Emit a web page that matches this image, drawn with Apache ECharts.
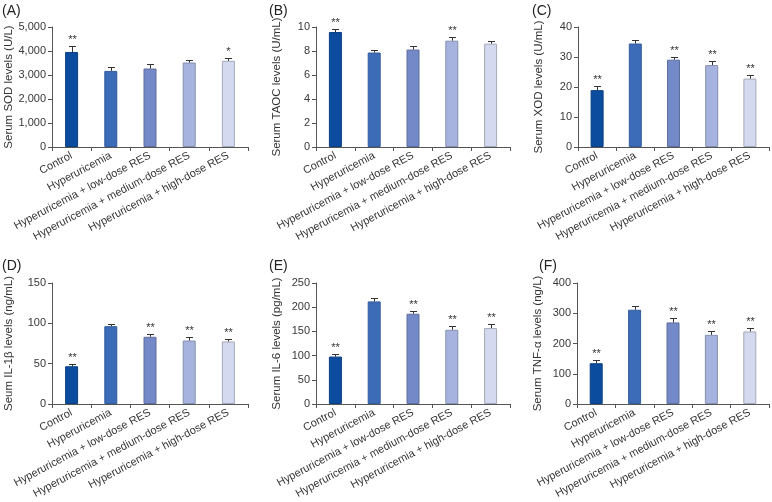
<!DOCTYPE html>
<html><head><meta charset="utf-8">
<script src="https://cdn.jsdelivr.net/npm/echarts@6/dist/echarts.min.js"></script>
<style>html,body{margin:0;padding:0;background:#fff}#c{width:772px;height:502px}</style>
</head><body><div id="c"></div>
<script>
const categories = ['Control','Hyperuricemia','Hyperuricemia + low-dose RES','Hyperuricemia + medium-dose RES','Hyperuricemia + high-dose RES'];
const barColors = ['#0b4c9f','#3c6cb8','#7489c7','#a6b3de','#d4d9ef'];
const borderColors = ['#0a3f82','#335d9c','#5f6f9c','#8490ae','#a4a9b8'];

const sodMean = [3960, 3170, 3270, 3520, 3590];
const sodErr = [250, 150, 180, 125, 125];
const sodStars = ['**','','','','*'];

const taocMean = [9.58, 7.87, 8.12, 8.86, 8.61];
const taocErr = [0.28, 0.2, 0.27, 0.3, 0.25];
const taocStars = ['**','','','**',''];

const xodMean = [18.95, 34.5, 29.1, 27.3, 22.8];
const xodErr = [1.3, 1.3, 0.9, 1.3, 1.2];
const xodStars = ['**','','**','**','**'];

const il1Mean = [46.8, 96.5, 83.3, 78.7, 77.5];
const il1Err = [2.9, 2.9, 4, 4.5, 3.3];
const il1Stars = ['**','','**','**','**'];

const il6Mean = [98, 212, 186.5, 153.3, 156.8];
const il6Err = [6, 6, 5.5, 7.6, 7.6];
const il6Stars = ['**','','**','**','**'];

const tnfMean = [134.8, 311.6, 269.6, 228.7, 239.8];
const tnfErr = [11, 11, 14, 12, 12];
const tnfStars = ['**','','**','**','**'];

const panels = [
  {letter:'(A)', name:'Serum SOD levels (U/L)', mean:sodMean, err:sodErr, stars:sodStars, max:5000, interval:1000, left:52, top:27, width:196, height:120, gap:37, lx:2, ly:4},
  {letter:'(B)', name:'Serum TAOC levels (U/mL)', mean:taocMean, err:taocErr, stars:taocStars, max:10, interval:2, left:316, top:27, width:194, height:120, gap:33, lx:269, ly:4},
  {letter:'(C)', name:'Serum XOD levels (U/mL)', mean:xodMean, err:xodErr, stars:xodStars, max:40, interval:10, left:578, top:27, width:191, height:120, gap:33, lx:532, ly:4},
  {letter:'(D)', name:'Seum IL-1β levels (ng/mL)', mean:il1Mean, err:il1Err, stars:il1Stars, max:150, interval:50, left:52, top:283, width:196, height:121, gap:37, lx:2, ly:259},
  {letter:'(E)', name:'Serum IL-6 levels (pg/mL)', mean:il6Mean, err:il6Err, stars:il6Stars, max:250, interval:50, left:316, top:283, width:194, height:121, gap:33, lx:269, ly:259},
  {letter:'(F)', name:'Serum TNF-α levels (ng/L)', mean:tnfMean, err:tnfErr, stars:tnfStars, max:400, interval:100, left:577, top:283, width:192, height:121, gap:33, lx:539, ly:259}
];

const FONT = 'Liberation Sans, Arial, sans-serif';
const axisColor = '#555';
const grid = [], xAxis = [], yAxis = [], series = [], graphic = [];

panels.forEach((p, k) => {
  grid.push({left:p.left, top:p.top, width:p.width, height:p.height, containLabel:false});
  xAxis.push({
    type:'category', gridIndex:k, data:categories,
    axisLine:{lineStyle:{color:axisColor, width:1}},
    axisTick:{show:true, length:4, lineStyle:{color:axisColor}},
    axisLabel:{rotate:28, fontSize:11, color:'#383838', fontFamily:FONT, margin:8, interval:0}
  });
  yAxis.push({
    type:'value', gridIndex:k, min:0, max:p.max, interval:p.interval,
    name:p.name, nameLocation:'middle', nameGap:p.gap, nameRotate:90,
    nameTextStyle:{fontSize:11.5, color:'#333', fontFamily:FONT},
    axisLine:{show:true, lineStyle:{color:axisColor, width:1}},
    axisTick:{show:true, length:4, lineStyle:{color:axisColor}},
    splitLine:{show:false},
    axisLabel:{fontSize:11, color:'#383838', fontFamily:FONT, margin:6,
      formatter: v => p.max >= 1000 ? v.toLocaleString('en-US') : String(v)}
  });
  series.push({
    type:'bar', xAxisIndex:k, yAxisIndex:k, barWidth:13,
    data: p.mean.map((v,i) => ({value:v, itemStyle:{color:barColors[i], borderColor:borderColors[i], borderWidth:1}})),
    silent:true, z:2
  });
  series.push({
    type:'custom', xAxisIndex:k, yAxisIndex:k, z:3, silent:true,
    data: p.mean.map((v,i) => [i, v, p.err[i]]),
    renderItem: (params, api) => {
      const i = api.value(0);
      const top = api.coord([i, api.value(1)]);
      const et = api.coord([i, api.value(1) + api.value(2)]);
      const x = Math.round(top[0]) + 0.5;
      const y = Math.round(et[1]) + 0.5;
      const children = [
        {type:'line', shape:{x1:x, y1:top[1], x2:x, y2:y}, style:{stroke:'#333', lineWidth:1}},
        {type:'line', shape:{x1:x-3.5, y1:y, x2:x+3.5, y2:y}, style:{stroke:'#333', lineWidth:1}}
      ];
      const s = p.stars[params.dataIndex];
      if (s) children.push({type:'text', style:{text:s, x:x, y:y-1, textAlign:'center', textVerticalAlign:'bottom', fill:'#333', font:'11px ' + FONT}});
      return {type:'group', children};
    }
  });
  graphic.push({type:'text', left:p.lx, top:p.ly, style:{text:p.letter, fill:'#222', font:'14px ' + FONT}});
});

const chart = echarts.init(document.getElementById('c'), null, {renderer:'canvas'});
chart.setOption({animation:false, grid, xAxis, yAxis, series, graphic});
</script></body></html>
